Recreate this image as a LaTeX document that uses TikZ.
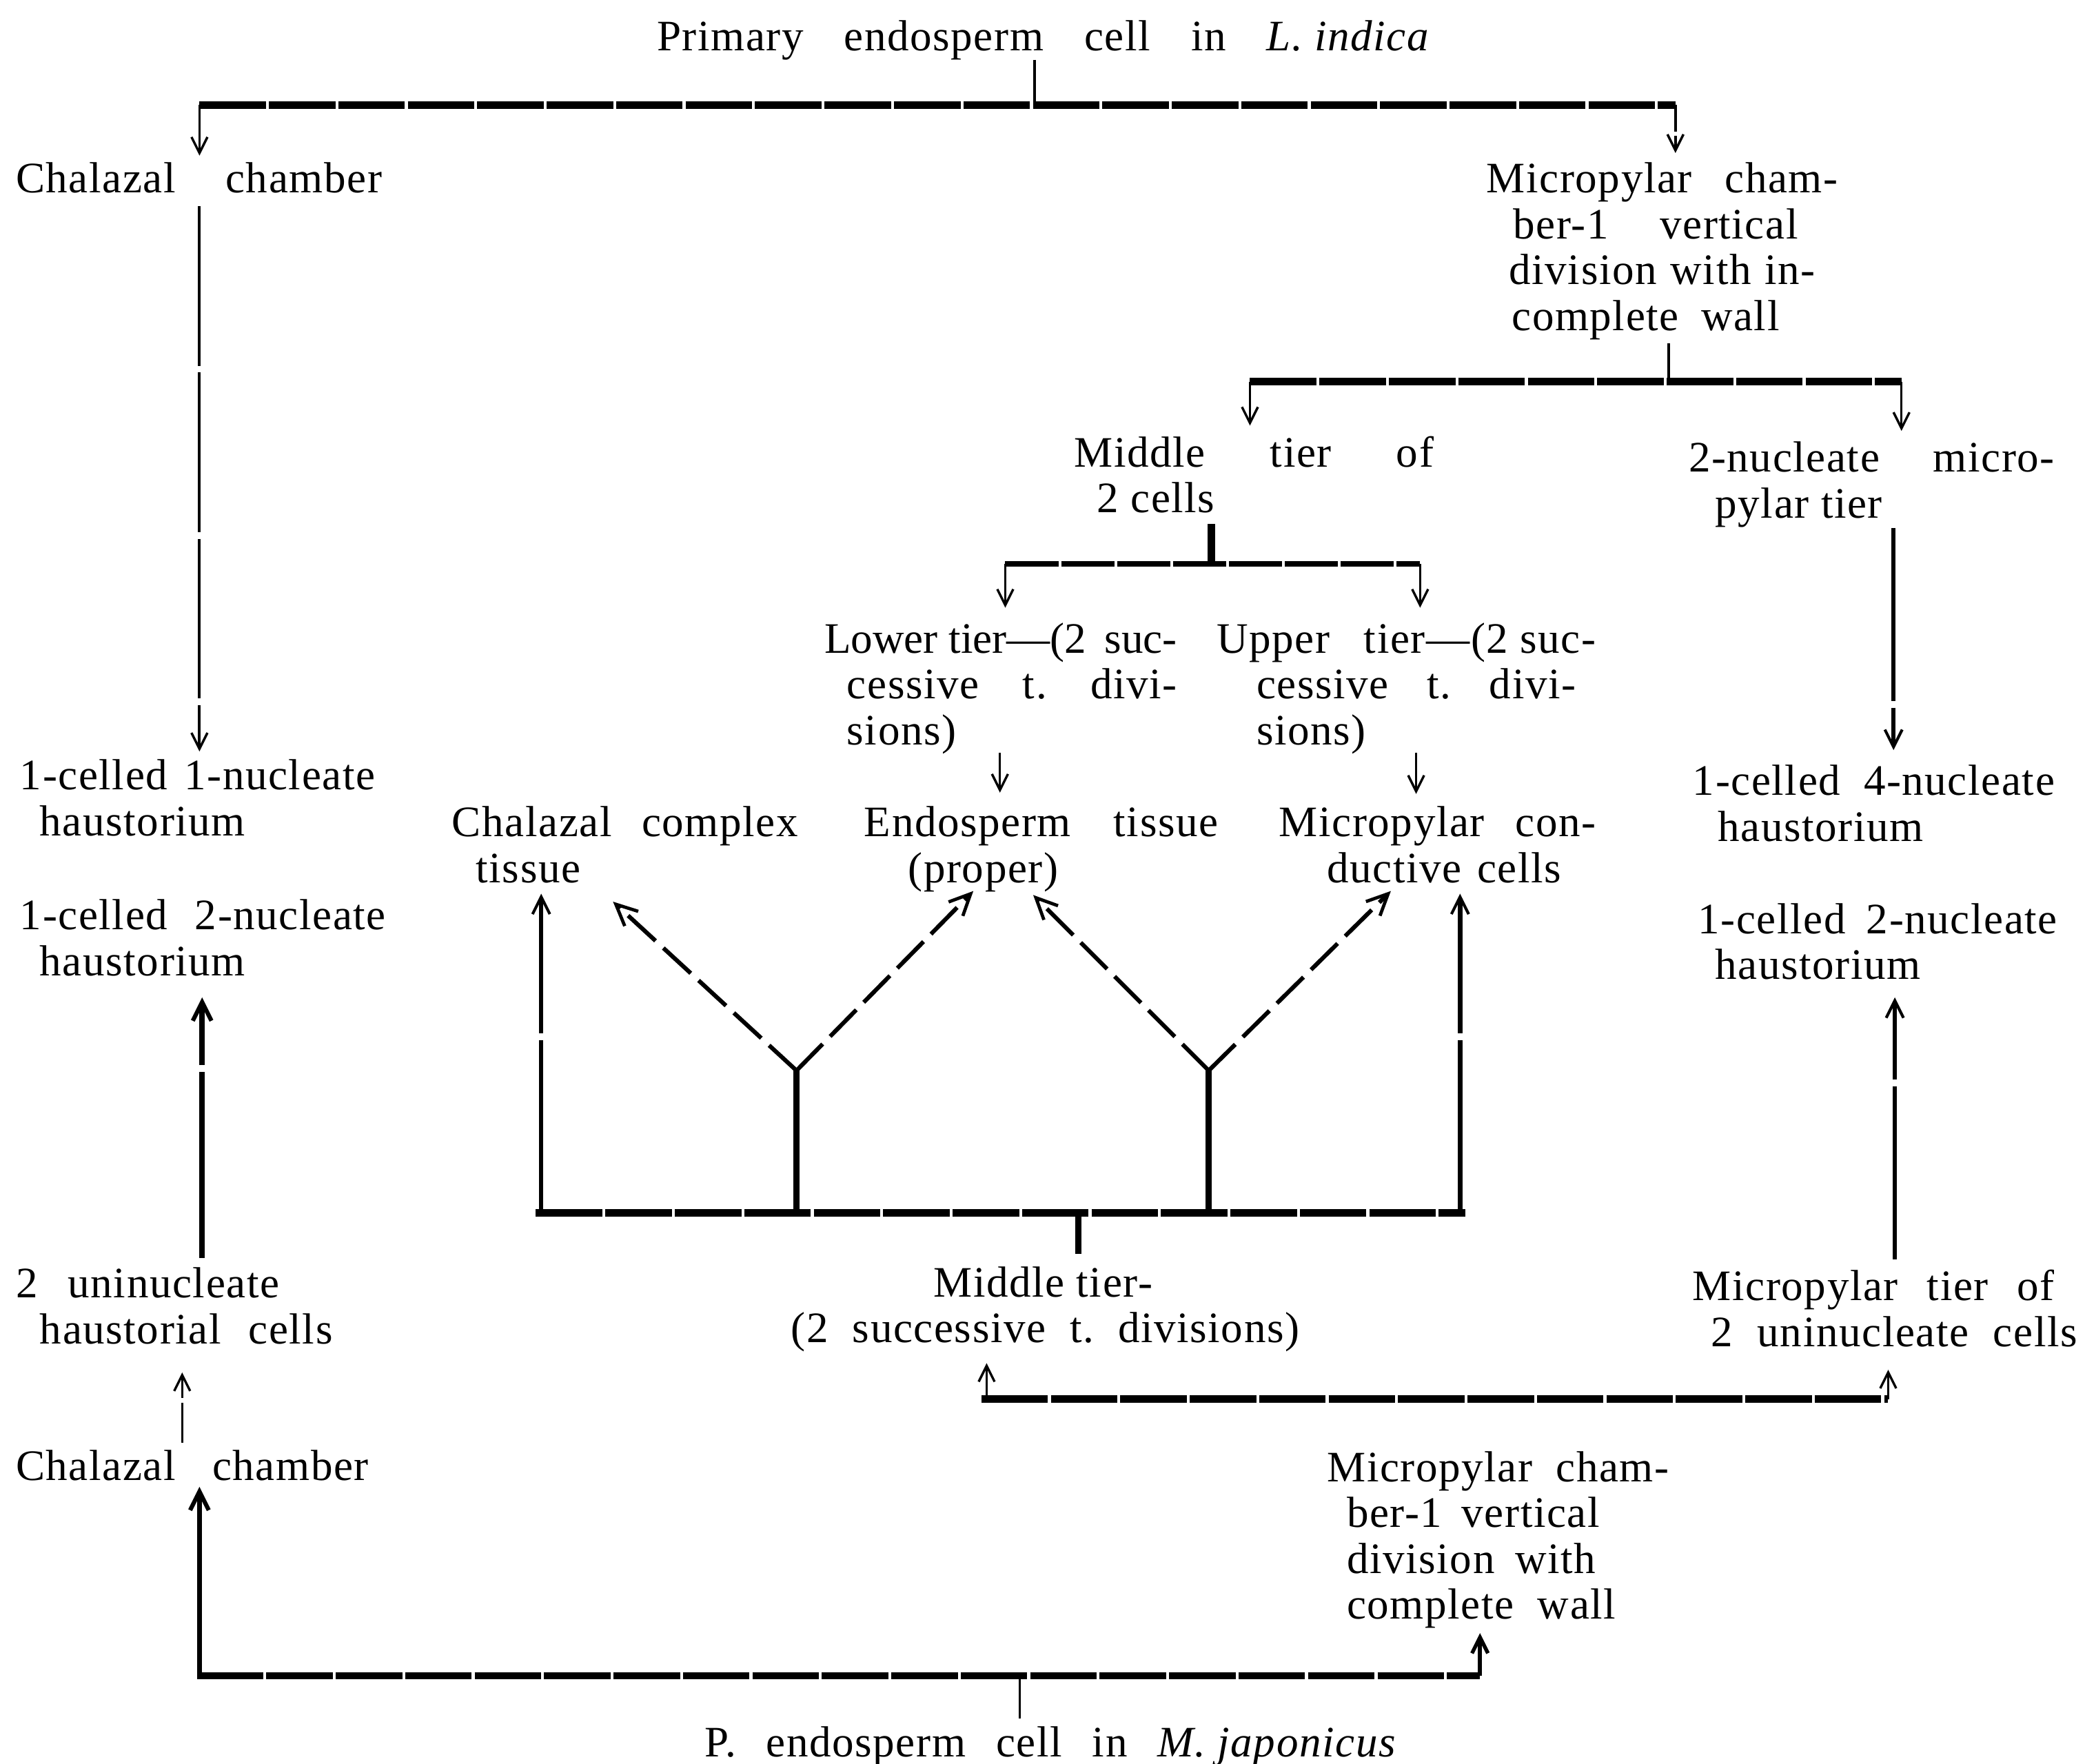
\documentclass[tikz,border=0pt]{standalone}
\usepackage{fontspec}
\setmainfont{Liberation Serif}[LetterSpace=2.5]
\usetikzlibrary{arrows.meta}
\newcommand\Jl[3]{\hbox{\kern#1\relax\hbox to #2{#3}}}
\newcommand\Nl[2]{\hbox{\kern#1\relax #2}}
\newcommand\Blk[1]{\vtop{\baselineskip=0.345cm\lineskiplimit=-100pt\lineskip=0pt #1}}
\tikzset{
  txt/.style={inner sep=0pt, outer sep=0pt, anchor=base west, font=\fontsize{9.3}{11}\selectfont},
  bar/.style={line width=1.6pt, dash pattern=on 0.5cm off 0.022cm},
  medbar/.style={line width=1.2pt, dash pattern=on 0.4cm off 0.02cm},
  tick/.style={line width=0.5pt},
  thicktick/.style={line width=1.3pt},
  thinarr/.style={line width=0.5pt, -{Straight Barb[length=1.2mm,width=1.2mm]}},
  vline/.style={line width=0.6pt, dash pattern=on 1.2cm off 0.05cm},
  varr/.style={vline, -{Straight Barb[length=1.2mm,width=1.2mm,line width=0.5pt]}},
  medarr/.style={line width=0.9pt, dash pattern=on 1.3cm off 0.05cm, -{Straight Barb[length=1.3mm,width=1.3mm,line width=0.6pt]}},
  thickarr/.style={line width=1.2pt, dash pattern=on 1.4cm off 0.05cm, -{Straight Barb[length=1.4mm,width=1.4mm,line width=0.9pt]}},
  diag/.style={line width=0.9pt, dash pattern=on 0.28cm off 0.08cm, -{Straight Barb[length=1.6mm,width=1.5mm,line width=0.7pt]}},
}
\begin{document}
\begin{tikzpicture}[x=0.01cm,y=-0.01cm]
\useasboundingbox[fill=white] (0,0) rectangle (1568,1326);

% ---------- text nodes ----------
\node[txt] (title) at (494,38) {\Jl{0pt}{5.81cm}{Primary\hfil endosperm\hfil cell\hfil in\hfil\textit{L.\ indica}}};
\node[txt] (chalT) at (12,145) {\Jl{0pt}{2.75cm}{Chalazal\hfil chamber}};
\node[txt] (micT) at (1118,145) {\Blk{\Jl{0pt}{2.64cm}{Micropylar\hfil cham-}\Jl{0.20cm}{2.14cm}{ber-1\hfil vertical}\Jl{0.17cm}{2.30cm}{division\hfil with\hfil in-}\Jl{0.19cm}{2.01cm}{complete\hfil wall}}};
\node[txt] (midT) at (808,351) {\Blk{\Jl{0pt}{2.70cm}{Middle\hfil tier\hfil of}\Nl{0.17cm}{2 cells}}};
\node[txt] (nucT) at (1270,355) {\Blk{\Jl{0pt}{2.75cm}{2-nucleate\hfil micro-}\Nl{0.20cm}{pylar tier}}};
\node[txt] (lowT) at (620,491) {\Blk{\Jl{0pt}{2.65cm}{\addfontfeature{LetterSpace=0}Lower tier—(2\hfil suc-}\Jl{0.17cm}{2.48cm}{cessive\hfil t.\hfil divi-}\Nl{0.17cm}{sions)}}};
\node[txt] (upT) at (915,491) {\Blk{\Jl{0pt}{2.85cm}{Upper\hfil tier—(2 suc-}\Jl{0.30cm}{2.40cm}{cessive\hfil t.\hfil divi-}\Nl{0.30cm}{sions)}}};
\node[txt] (cctT) at (340,629) {\Blk{\Jl{0pt}{2.60cm}{Chalazal\hfil complex}\Nl{0.18cm}{tissue}}};
\node[txt] (endT) at (650,629) {\Blk{\Jl{0pt}{2.66cm}{Endosperm\hfil tissue}\Nl{0.33cm}{(proper)}}};
\node[txt] (mcdT) at (962,629) {\Blk{\Jl{0pt}{2.38cm}{Micropylar\hfil con-}\Jl{0.36cm}{1.76cm}{ductive\hfil cells}}};
\node[txt] (h4T) at (1273,598) {\Blk{\Jl{0pt}{2.72cm}{1-celled\hfil 4-nucleate}\Nl{0.19cm}{haustorium}}};
\node[txt] (h1T) at (15,594) {\Blk{\Jl{0pt}{2.67cm}{1-celled\hfil 1-nucleate}\Nl{0.15cm}{haustorium}}};
\node[txt] (h2L) at (15,699) {\Blk{\Jl{0pt}{2.75cm}{1-celled\hfil 2-nucleate}\Nl{0.15cm}{haustorium}}};
\node[txt] (h2R) at (1277,702) {\Blk{\Jl{0pt}{2.70cm}{1-celled\hfil 2-nucleate}\Nl{0.13cm}{haustorium}}};
\node[txt] (uniT) at (12,976) {\Blk{\Jl{0pt}{1.98cm}{2\hfil uninucleate}\Jl{0.18cm}{2.20cm}{haustorial\hfil cells}}};
\node[txt] (mt2T) at (595,975) {\Blk{\Nl{1.07cm}{Middle tier-}\Jl{0pt}{3.82cm}{(2\hfil successive\hfil t.\hfil divisions)}}};
\node[txt] (mtuT) at (1273,978) {\Blk{\Jl{0pt}{2.72cm}{Micropylar\hfil tier\hfil of}\Jl{0.14cm}{2.75cm}{2\hfil uninucleate\hfil cells}}};
\node[txt] (chalB) at (12,1113) {\Jl{0pt}{2.65cm}{Chalazal\hfil chamber}};
\node[txt] (micB) at (998,1114) {\Blk{\Jl{0pt}{2.57cm}{Micropylar\hfil cham-}\Jl{0.15cm}{1.90cm}{ber-1\hfil vertical}\Jl{0.15cm}{1.87cm}{division\hfil with}\Jl{0.15cm}{2.02cm}{complete\hfil wall}}};
\node[txt] (botT) at (530,1321) {\Jl{0pt}{5.20cm}{P.\hfil endosperm\hfil cell\hfil in\hfil\textit{M.\ japonicus}}};

% ---------- junction coordinates ----------
\coordinate (t1) at (title.south -| 778,0);
\coordinate (b1m) at (778,79);
\coordinate (b1l) at (150,79);
\coordinate (b1r) at (1260,79);
\coordinate (a1) at (150,117);
\coordinate (a2) at (1260,115);
\coordinate (c5s) at (150,155);
\coordinate (a5) at (150,565);
\coordinate (c6s) at (1255,258);
\coordinate (b2m) at (1255,287);
\coordinate (b2l) at (940,287);
\coordinate (b2r) at (1430,287);
\coordinate (a8) at (940,320);
\coordinate (a9) at (1430,324);
\coordinate (c10s) at (911,394);
\coordinate (b3m) at (911,424);
\coordinate (b3l) at (756,424);
\coordinate (b3r) at (1068,424);
\coordinate (a12) at (756,457);
\coordinate (a13) at (1068,457);
\coordinate (c14s) at (1424,397);
\coordinate (a14) at (1424,564);
\coordinate (c15s) at (752,566);
\coordinate (a15) at (752,596);
\coordinate (c16s) at (1065,566);
\coordinate (a16) at (1065,597);
\coordinate (b4l) at (403,912);
\coordinate (b4r) at (1102,912);
\coordinate (v1) at (407,912);
\coordinate (a18) at (407,672);
\coordinate (v2) at (599,912);
\coordinate (y1) at (599,805);
\coordinate (a20) at (461,678);
\coordinate (a21) at (732,670);
\coordinate (v3) at (909,912);
\coordinate (y2) at (909,805);
\coordinate (a23) at (777,673);
\coordinate (a24) at (1046,670);
\coordinate (v4) at (1098,912);
\coordinate (a25) at (1098,672);
\coordinate (b4m) at (811,912);
\coordinate (c26e) at (811,943);
\coordinate (c27s) at (152,946);
\coordinate (a27) at (152,750);
\coordinate (c28s) at (1425,947);
\coordinate (a28) at (1425,750);
\coordinate (c29s) at (137,1085);
\coordinate (a29) at (137,1032);
\coordinate (b5l) at (738,1052);
\coordinate (b5r) at (1420,1052);
\coordinate (b5a) at (742,1052);
\coordinate (a31) at (742,1025);
\coordinate (a32) at (1420,1030);
\coordinate (b6l) at (148,1260);
\coordinate (b6r) at (1113,1260);
\coordinate (b6a) at (150,1260);
\coordinate (a34) at (150,1118);
\coordinate (a35) at (1113,1228);
\coordinate (b6m) at (767,1262);
\coordinate (c36s) at (767,1292);

% ---------- connectors ----------
% top: L. indica
\draw[tick] (t1) -- (b1m);
\draw[bar] (b1l) -- (b1r);
\draw[thinarr] (b1l) -- (a1);
\draw[thinarr, dash pattern=on 0.2cm off 0.03cm] (b1r) -- (a2);
\draw[varr] (c5s) -- (a5);
\draw[tick] (c6s) -- (b2m);
\draw[bar] (b2l) -- (b2r);
\draw[thinarr] (b2l) -- (a8);
\draw[thinarr] (b2r) -- (a9);
\draw[line width=1.6pt] (c10s) -- (b3m);
\draw[medbar] (b3l) -- (b3r);
\draw[thinarr] (b3l) -- (a12);
\draw[thinarr] (b3r) -- (a13);
\draw[medarr] (c14s) -- (a14);
\draw[thinarr] (c15s) -- (a15);
\draw[thinarr] (c16s) -- (a16);

% middle tier fan
\draw[bar] (b4l) -- (b4r);
\draw[medarr] (v1) -- (a18);
\draw[thicktick] (v2) -- (y1);
\draw[diag] (y1) -- (a20);
\draw[diag] (y1) -- (a21);
\draw[thicktick] (v3) -- (y2);
\draw[diag] (y2) -- (a23);
\draw[diag] (y2) -- (a24);
\draw[medarr, line width=1.1pt] (v4) -- (a25);
\draw[thicktick] (b4m) -- (c26e);

% lower half: M. japonicus
\draw[thickarr] (c27s) -- (a27);
\draw[medarr] (c28s) -- (a28);
\draw[thinarr, dash pattern=on 0.3cm off 0.04cm] (c29s) -- (a29);
\draw[bar] (b5l) -- (b5r);
\draw[thinarr] (b5a) -- (a31);
\draw[thinarr] (b5r) -- (a32);
\draw[bar, line width=1.5pt] (b6l) -- (b6r);
\draw[thickarr, line width=1.1pt] (b6a) -- (a34);
\draw[thinarr, line width=0.8pt] (b6r) -- (a35);
\draw[tick] (c36s) -- (b6m);
\end{tikzpicture}
\end{document}
